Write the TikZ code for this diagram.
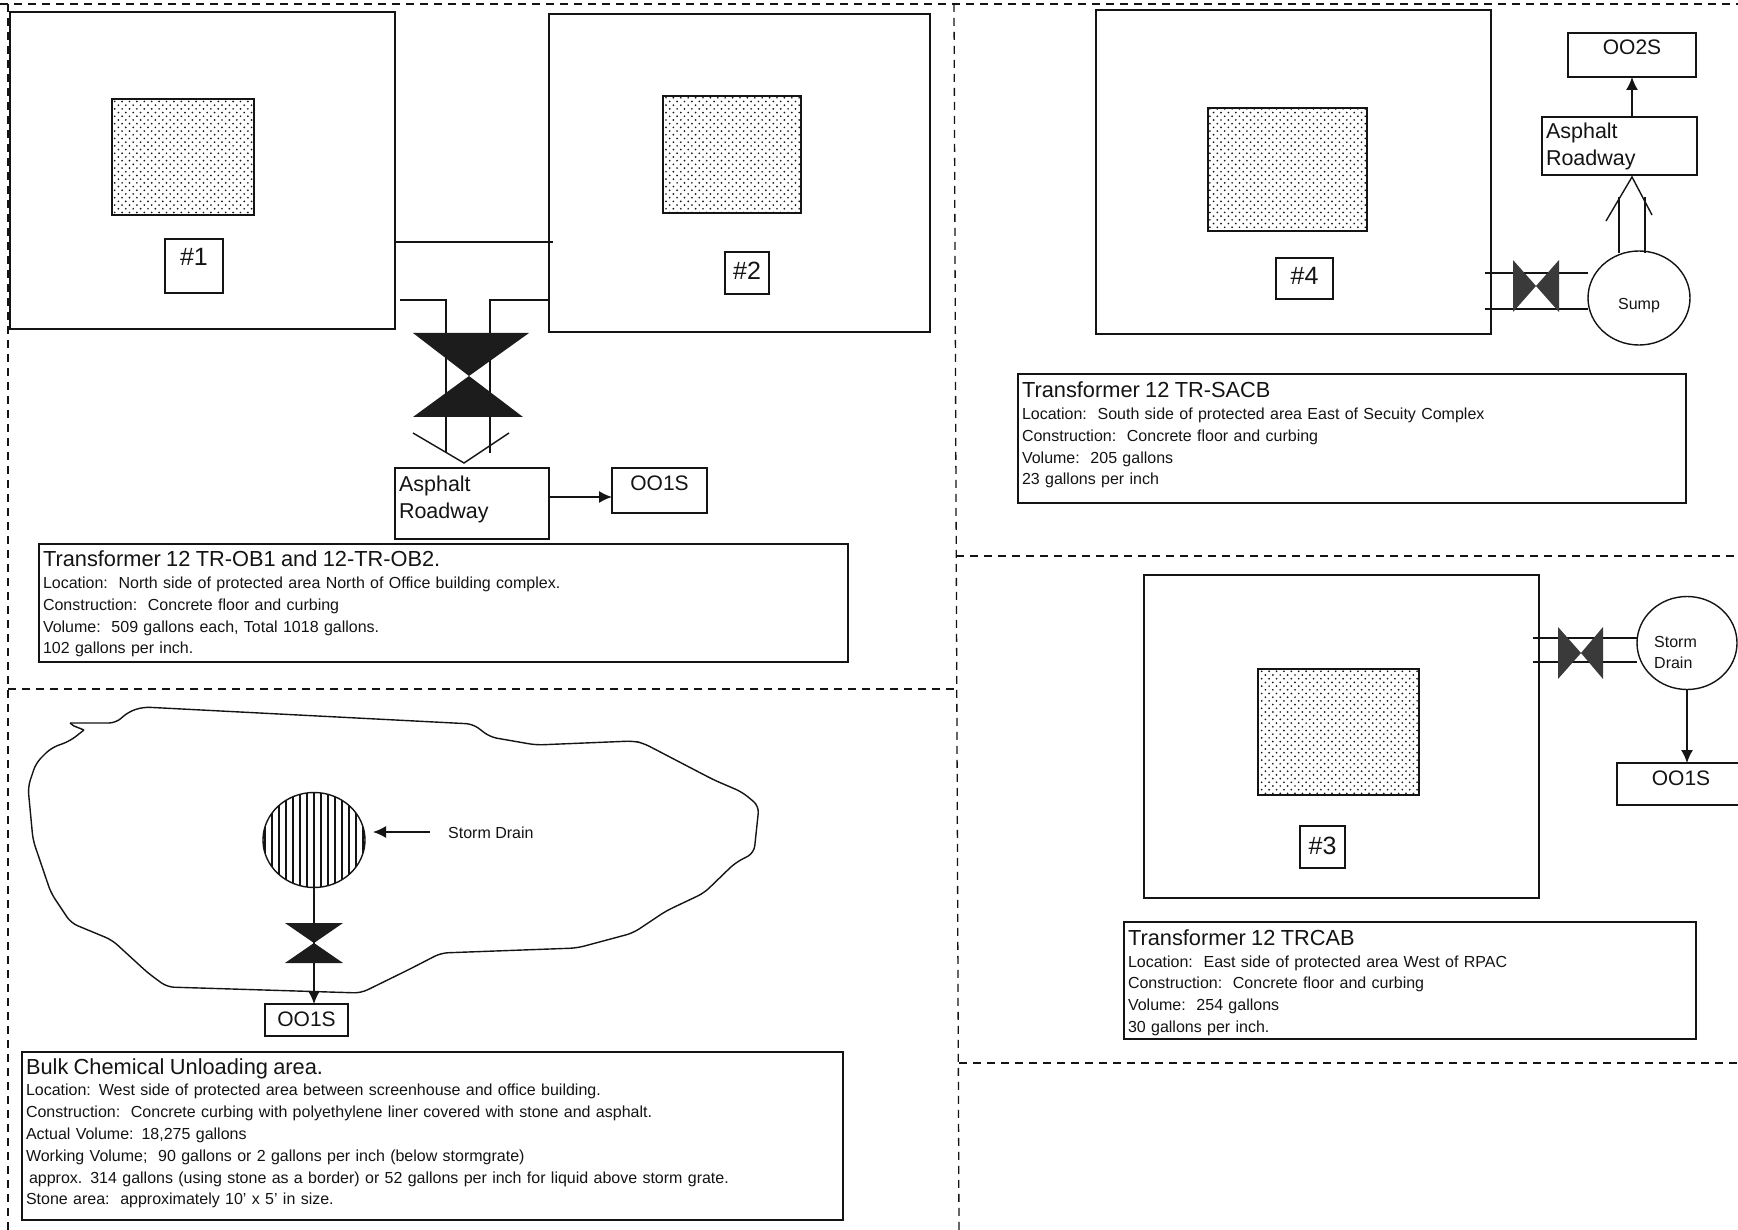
\documentclass[tikz,border=0pt]{standalone}
\usepackage{fontspec}
\setmainfont{Liberation Sans}
\usetikzlibrary{arrows.meta,patterns,shapes.geometric}
\definecolor{inkblack}{HTML}{141414}
\definecolor{valvedark}{HTML}{1C1C1C}
\definecolor{valvegray}{HTML}{3A3A3A}
\pgfdeclarepatternformonly{stipple}{\pgfqpoint{-1pt}{-1pt}}{\pgfqpoint{8.5pt}{8.5pt}}{\pgfqpoint{7.4pt}{7.4pt}}{
  \pgfpathcircle{\pgfqpoint{0pt}{0pt}}{0.95pt}
  \pgfpathcircle{\pgfqpoint{3.7pt}{3.7pt}}{0.95pt}
  \pgfusepath{fill}
}
\newcommand{\captiontitle}[1]{{\fontsize{21.8}{24}\selectfont #1}\\}
\tikzset{
  plainbox/.style={rectangle,draw=inkblack,line width=1.4pt,anchor=north west,outer sep=0pt,inner sep=0pt},
  tankbox/.style={plainbox},
  padbox/.style={plainbox,pattern=stipple,pattern color=inkblack},
  tagbox/.style={plainbox,font=\fontsize{25}{28}\selectfont,text=inkblack},
  gagebox/.style={plainbox,font=\fontsize{21}{26}\selectfont,text=inkblack},
  roadbox/.style={plainbox,font=\fontsize{21.5}{27}\selectfont,text=inkblack,align=left,inner xsep=4pt},
  notebox/.style={plainbox,font=\fontsize{16}{21.8}\selectfont,text=inkblack,align=left,inner xsep=4pt},
  drum/.style={ellipse,draw=inkblack,line width=1.4pt,fill=white,inner sep=0pt,outer sep=0pt},
  pipe/.style={draw=inkblack,line width=1.4pt},
  flow/.style={-{Latex[length=13pt,width=12pt]},draw=inkblack,line width=1.4pt},
  small/.style={font=\fontsize{16}{21}\selectfont,text=inkblack,align=left,inner sep=0pt},
  border/.style={draw=inkblack,line width=1.3pt,dash pattern=on 8pt off 6pt}
}
\begin{document}
\begin{tikzpicture}[x=1pt,y=-1pt]
\useasboundingbox (0,0) rectangle (1738,1230);
\fill[white] (0,0) rectangle (1738,1230);
% sheet divisions
\draw[border] (0,4) -- (1738,4);
\draw[border] (8,4) -- (8,1230);
\draw[border] (954,4) -- (959,1230);
\draw[border] (8,689) -- (955,689);
\draw[border] (956,556) -- (1738,556);
\draw[border] (959,1063) -- (1738,1063);
% transformers OB1 and OB2
\node[tankbox,minimum width=385pt,minimum height=317pt] (tankone) at (10,12) {};
\node[tankbox,minimum width=381pt,minimum height=318pt] (tanktwo) at (549,14) {};
\node[padbox,minimum width=142pt,minimum height=116pt] (padone) at (112,99) {};
\node[padbox,minimum width=138pt,minimum height=117pt] (padtwo) at (663,96) {};
\node[tagbox,minimum width=58pt,text height=27pt,text depth=27pt] (tagone) at (165,239) {\#1};
\node[tagbox,minimum width=44pt,text height=28pt,text depth=14pt] (tagtwo) at (725,252) {\#2};
\coordinate (linkend) at (553,242);
\coordinate (curbleft) at (400,300);
\coordinate (pipeleft) at (446,453);
\coordinate (piperight) at (490,453);
\draw[pipe] (tankone.east |- linkend) -- (linkend);
\draw[pipe] (curbleft) -| (pipeleft);
\draw[pipe] (tanktwo.west |- curbleft) -| (piperight);
\fill[valvedark] (413,333) -- (529,333) -- (469,376) -- (523,417) -- (413,417) -- (469,376) -- cycle;
\coordinate (chevleft) at (413,433);
\coordinate (chevtip) at (464,463);
\coordinate (chevright) at (509,433);
\draw[pipe] (chevleft) -- (chevtip) -- (chevright);
\node[roadbox,text width=146pt,minimum height=71pt] (roadone) at (395,468) {Asphalt\\Roadway\\[-14pt]\mbox{}};
\node[gagebox,minimum width=95pt,text height=22pt,text depth=23pt] (gageone) at (612,468) {OO1S};
\coordinate (flowone) at (612,497);
\draw[flow] (roadone.east |- flowone) -- (flowone);
\node[notebox,text width=801pt,minimum height=118pt] (noteone) at (39,544) {\rule{0pt}{18pt}\captiontitle{Transformer 12 TR-OB1 and 12-TR-OB2.}
Location:\ \ North side of protected area North of Office building complex.\\
Construction:\ \ Concrete floor and curbing\\
Volume:\ \ 509 gallons each, Total 1018 gallons.\\
102 gallons per inch.};
% bulk chemical area
\draw[pipe,rounded corners=7pt] (70,723) -- (116,723) -- (128,712) -- (143,707) -- (473,724) -- (490,737) -- (536,745) -- (633,741) -- (643,743) -- (714,780) -- (742,792) -- (759,806) -- (754,853) -- (735,863) -- (704,893) -- (666,911) -- (633,933) -- (577,948) -- (441,953) -- (408,970) -- (361,993) -- (167,987) -- (148,973) -- (112,940) -- (71,923) -- (51,893) -- (33,840) -- (28,787) -- (36,763) -- (51,748) -- (70,741) -- (84,730);
\draw[pipe] (84,730) -- (74,726) -- (70,723);
\node[drum,minimum width=102pt,minimum height=95pt,path picture={
  \foreach \hx in {-49,-42,...,49}
    \draw[inkblack,line width=1.1pt] ([xshift=\hx pt]path picture bounding box.north) -- ([xshift=\hx pt]path picture bounding box.south);
}] (drainpit) at (314,840) {};
\node[gagebox,minimum width=83pt,text height=22pt,text depth=10pt] (gagebulk) at (265,1004) {OO1S};
\draw[flow] (drainpit.south) -- (gagebulk.north -| drainpit.south);
\fill[valvedark] (285,923) -- (343,923) -- (314,943) -- (343,963) -- (285,963) -- (314,943) -- cycle;
\node[small,anchor=west] (drainname) at (448,833) {Storm Drain};
\coordinate (drainfrom) at (430,832);
\coordinate (drainto) at (373,832);
\draw[flow] (drainfrom) -- (drainto);
\node[notebox,text width=813pt,minimum height=168pt] (notebulk) at (22,1052) {\captiontitle{Bulk Chemical Unloading area.}
Location: West side of protected area between screenhouse and office building.\\
Construction:\ \ Concrete curbing with polyethylene liner covered with stone and asphalt.\\
Actual Volume: 18,275 gallons\\
Working Volume;\ \ 90 gallons or 2 gallons per inch (below stormgrate)\\
\hspace*{3pt}approx. 314 gallons (using stone as a border) or 52 gallons per inch for liquid above storm grate.\\
Stone area:\ \ approximately 10' x 5' in size.\\[-13pt]\mbox{}};
% transformer SACB
\node[tankbox,minimum width=395pt,minimum height=324pt] (tankfour) at (1096,10) {};
\node[padbox,minimum width=159pt,minimum height=123pt] (padfour) at (1208,108) {};
\node[tagbox,minimum width=57pt,text height=26.5pt,text depth=14.5pt] (tagfour) at (1276,258) {\#4};
\node[gagebox,minimum width=128pt,text height=22pt,text depth=22pt] (gagefour) at (1568,33) {OO2S};
\node[roadbox,text width=147pt,minimum height=58pt] (roadfour) at (1542,117) {Asphalt\\Roadway};
\node[drum,minimum width=102pt,minimum height=94pt] (sump) at (1639,298) {};
\node[small,anchor=center] (sumpname) at (1639,306) {Sump};
\coordinate (sumpupper) at (1485,273);
\coordinate (sumplower) at (1485,309);
\coordinate (riserleft) at (1619,197);
\coordinate (riserright) at (1645,197);
\draw[pipe] (sumpupper) -- (sump.west |- sumpupper);
\draw[pipe] (sumplower) -- (sump.west |- sumplower);
\draw[pipe] (sump.north -| riserleft) ++(0,2) -- (riserleft);
\draw[pipe] (sump.north -| riserright) ++(0,2) -- (riserright);
\coordinate (sumpchevleft) at (1606,221);
\coordinate (sumpchevtip) at (1632,177);
\coordinate (sumpchevright) at (1652,215);
\draw[pipe] (sumpchevleft) -- (sumpchevtip) -- (sumpchevright);
\fill[valvegray] (1513,260) -- (1536,286) -- (1559,260) -- (1559,312) -- (1536,286) -- (1513,312) -- cycle;
\coordinate (flowfour) at (1632,77);
\draw[flow] (roadfour.north -| flowfour) -- (flowfour);
\node[notebox,text width=660pt,minimum height=129pt] (notefour) at (1018,374) {\captiontitle{Transformer 12 TR-SACB}
Location:\ \ South side of protected area East of Secuity Complex\\
Construction:\ \ Concrete floor and curbing\\
Volume:\ \ 205 gallons\\
23 gallons per inch\\[-11.5pt]\mbox{}};
% transformer TRCAB
\node[tankbox,minimum width=395pt,minimum height=323pt] (tankthree) at (1144,575) {};
\node[padbox,minimum width=161pt,minimum height=126pt] (padthree) at (1258,669) {};
\node[tagbox,minimum width=45pt,text height=28pt,text depth=14pt] (tagthree) at (1300,826) {\#3};
\node[drum,minimum width=100pt,minimum height=93pt] (stormdrain) at (1687,643) {};
\node[small,anchor=west] (stormname) at (1654,652) {Storm\\Drain};
\coordinate (stormupper) at (1533,638);
\coordinate (stormlower) at (1533,662);
\draw[pipe] (stormupper) -- (stormdrain.west |- stormupper);
\draw[pipe] (stormlower) -- (stormdrain.west |- stormlower);
\fill[valvegray] (1558,627) -- (1581,653) -- (1603,627) -- (1603,679) -- (1581,653) -- (1558,679) -- cycle;
\node[gagebox,minimum width=128pt,text height=22pt,text depth=20pt] (gagethree) at (1617,763) {OO1S};
\draw[flow] (stormdrain.south) -- (gagethree.north -| stormdrain.south);
\node[notebox,text width=564pt,minimum height=117pt] (notethree) at (1124,922) {\rule{0pt}{20pt}\captiontitle{Transformer 12 TRCAB}
Location:\ \ East side of protected area West of RPAC\\
Construction:\ \ Concrete floor and curbing\\
Volume:\ \ 254 gallons\\
30 gallons per inch.};
\end{tikzpicture}
\end{document}
